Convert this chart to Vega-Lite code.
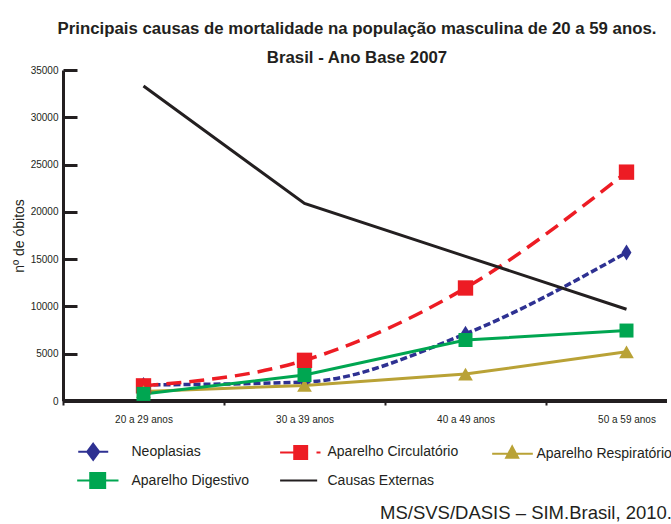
{
  "$schema": "https://vega.github.io/schema/vega-lite/v6.json",
  "width": 604,
  "height": 331,
  "autosize": {"type": "none"},
  "padding": {"left": 63, "top": 70, "right": 4, "bottom": 123},
  "background": "white",
  "title": {
    "text": ["Principais causas de mortalidade na população masculina de 20 a 59 anos.", "Brasil - Ano Base 2007"],
    "font": "Liberation Sans",
    "fontSize": 16.8,
    "fontWeight": "bold",
    "color": "#231f20",
    "anchor": "middle",
    "offset": -2,
    "lineHeight": 29,
    "dx": -8
  },
  "config": {
    "view": {"stroke": null},
    "font": "Liberation Sans"
  },
  "data": {
    "values": [
      {"faixa": "20 a 29 anos", "causa": "Neoplasias", "obitos": 1700},
      {"faixa": "30 a 39 anos", "causa": "Neoplasias", "obitos": 2000},
      {"faixa": "40 a 49 anos", "causa": "Neoplasias", "obitos": 7100},
      {"faixa": "50 a 59 anos", "causa": "Neoplasias", "obitos": 15700},
      {"faixa": "20 a 29 anos", "causa": "Aparelho Circulatório", "obitos": 1600},
      {"faixa": "30 a 39 anos", "causa": "Aparelho Circulatório", "obitos": 4300},
      {"faixa": "40 a 49 anos", "causa": "Aparelho Circulatório", "obitos": 11950},
      {"faixa": "50 a 59 anos", "causa": "Aparelho Circulatório", "obitos": 24200},
      {"faixa": "20 a 29 anos", "causa": "Aparelho Respiratório", "obitos": 1000},
      {"faixa": "30 a 39 anos", "causa": "Aparelho Respiratório", "obitos": 1650},
      {"faixa": "40 a 49 anos", "causa": "Aparelho Respiratório", "obitos": 2850},
      {"faixa": "50 a 59 anos", "causa": "Aparelho Respiratório", "obitos": 5200},
      {"faixa": "20 a 29 anos", "causa": "Aparelho Digestivo", "obitos": 750},
      {"faixa": "30 a 39 anos", "causa": "Aparelho Digestivo", "obitos": 2750},
      {"faixa": "40 a 49 anos", "causa": "Aparelho Digestivo", "obitos": 6450},
      {"faixa": "50 a 59 anos", "causa": "Aparelho Digestivo", "obitos": 7450},
      {"faixa": "20 a 29 anos", "causa": "Causas Externas", "obitos": 33300},
      {"faixa": "30 a 39 anos", "causa": "Causas Externas", "obitos": 20900},
      {"faixa": "40 a 49 anos", "causa": "Causas Externas", "obitos": 15300},
      {"faixa": "50 a 59 anos", "causa": "Causas Externas", "obitos": 9700}
    ]
  },
  "layer": [
    {
      "mark": {"type": "rule", "strokeWidth": 3, "color": "#231f20"},
      "encoding": {
        "y": {"datum": 0, "type": "quantitative"}
      }
    },
    {
      "encoding": {
        "x": {
          "field": "faixa",
          "type": "nominal",
          "sort": null,
          "scale": {"type": "band", "range": [0, 644], "paddingInner": 0, "paddingOuter": 0},
          "axis": {
            "title": null,
            "domain": false,
            "tickBand": "extent",
            "ticks": true,
            "tickSize": 4,
            "tickWidth": 2,
            "tickColor": "#231f20",
            "labelAngle": 0,
            "labelFontSize": 10,
            "labelColor": "#231f20",
            "labelPadding": 9,
            "grid": false
          }
        },
        "y": {
          "field": "obitos",
          "type": "quantitative",
          "scale": {"domain": [0, 35000], "nice": false, "zero": true},
          "axis": {
            "title": "nº de óbitos",
            "titleFontSize": 14,
            "titleFontWeight": "normal",
            "titleColor": "#231f20",
            "titlePadding": 4,
            "values": [0, 5000, 10000, 15000, 20000, 25000, 30000, 35000],
            "format": "d",
            "domain": true,
            "domainColor": "#231f20",
            "domainWidth": 3,
            "ticks": true,
            "tickSize": -14,
            "tickWidth": 3,
            "tickColor": "#231f20",
            "labelFontSize": 10,
            "labelColor": "#231f20",
            "labelPadding": 19,
            "grid": false
          }
        },
        "color": {
          "field": "causa",
          "type": "nominal",
          "scale": {
            "domain": ["Neoplasias", "Aparelho Circulatório", "Aparelho Respiratório", "Aparelho Digestivo", "Causas Externas"],
            "range": ["#2e3192", "#ed1c24", "#b9a236", "#00a651", "#231f20"]
          },
          "legend": {
            "title": "MS/SVS/DASIS – SIM.Brasil, 2010.",
            "titleOrient": "bottom",
            "titleAnchor": "end",
            "titleFont": "Liberation Sans",
            "titleFontSize": 18.5,
            "titleFontWeight": "normal",
            "titleColor": "#231f20",
            "titlePadding": 12,
            "titleLimit": 600,
            "orient": "none",
            "direction": "horizontal",
            "legendX": 17,
            "legendY": 367,
            "columns": 3,
            "columnPadding": 26,
            "rowPadding": 2,
            "padding": 0,
            "symbolSize": 711,
            "symbolType": "circle",
            "labelFont": "Liberation Sans",
            "labelFontSize": 14,
            "labelColor": "#231f20",
            "labelOffset": 22.5,
            "labelLimit": 300,
            "encoding": {
              "symbols": {
                "shape": {"value": {"expr": "datum.value === 'Neoplasias' ? 'M-1.22,0H-0.5M0.35,0H1.03M-0.1,-0.6L0.35,0L-0.1,0.6L-0.55,0Z' : datum.value === 'Aparelho Circulatório' ? 'M-0.78,0H0.3M0.28,-0.49H1.25V0.49H0.28ZM1.95,0H2.25' : datum.value === 'Aparelho Respiratório' ? 'M-0.55,0H2.5M0.95,-0.55L1.4,0.3L0.5,0.3Z' : datum.value === 'Aparelho Digestivo' ? 'M-1.3,0H1.8M-0.32,-0.56H0.8V0.56H-0.32Z' : 'M-0.78,0H2'"}},
                "fill": {"value": {"expr": "scale('color', datum.value)"}},
                "stroke": {"value": {"expr": "scale('color', datum.value)"}},
                "strokeWidth": {"value": 2},
                "strokeDash": {"value": []},
                "opacity": {"value": 1},
                "fillOpacity": {"value": 1},
                "size": {"value": 711}
              }
            }
          }
        }
      },
      "layer": [
        {
          "transform": [{"filter": "datum.causa === 'Neoplasias' || datum.causa === 'Aparelho Circulatório'"}],
          "mark": {"type": "line", "interpolate": "monotone", "strokeWidth": 3.5},
          "encoding": {
            "strokeDash": {
              "field": "causa",
              "type": "nominal",
              "scale": {"domain": ["Neoplasias", "Aparelho Circulatório"], "range": [[7, 3], [15, 8]]},
              "legend": null
            }
          }
        },
        {
          "transform": [{"filter": "datum.causa !== 'Neoplasias' && datum.causa !== 'Aparelho Circulatório'"}],
          "mark": {"type": "line", "interpolate": "linear", "strokeWidth": 3},
          "encoding": {}
        },
        {
          "transform": [{"filter": "datum.causa !== 'Causas Externas'"}],
          "mark": {"type": "point", "filled": true, "opacity": 1, "strokeWidth": 0},
          "encoding": {
            "shape": {
              "field": "causa",
              "type": "nominal",
              "scale": {
                "domain": ["Neoplasias", "Aparelho Circulatório", "Aparelho Respiratório", "Aparelho Digestivo"],
                "range": ["M0,-1L0.62,0L0,1L-0.62,0Z", "square", "triangle-up", "square"]
              },
              "legend": null
            },
            "size": {
              "field": "causa",
              "type": "nominal",
              "scale": {
                "domain": ["Neoplasias", "Aparelho Circulatório", "Aparelho Respiratório", "Aparelho Digestivo"],
                "range": [256, 196, 130, 196]
              },
              "legend": null
            }
          }
        }
      ]
    }
  ]
}
